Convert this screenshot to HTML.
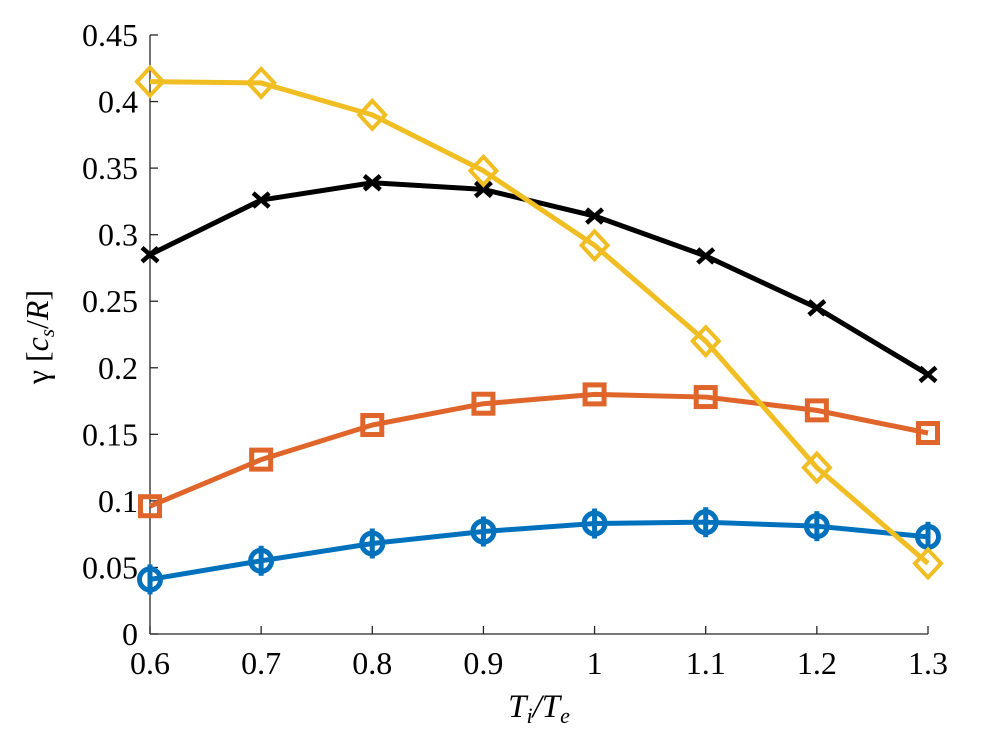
<!DOCTYPE html>
<html><head><meta charset="utf-8"><style>
body{margin:0;background:#fff;}
svg text{font-family:"Liberation Serif",serif;fill:#000;}
</style></head><body>
<svg id="chart" width="1008" height="750" xmlns="http://www.w3.org/2000/svg">
<g id="axes"></g>
<g id="series"></g>
<text transform="translate(48,337) rotate(-90)" text-anchor="middle" font-size="32">γ [<tspan font-style="italic">c</tspan><tspan font-style="italic" font-size="21" dy="6">s</tspan><tspan dy="-6">/</tspan><tspan font-style="italic">R</tspan>]</text>
<text x="539" y="717" text-anchor="middle" font-size="33" font-style="italic">T<tspan font-size="22" dy="6">i</tspan><tspan dy="-6">/T</tspan><tspan font-size="22" dy="6">e</tspan></text>
</svg>
<script>
const categories=[0.6,0.7,0.8,0.9,1.0,1.1,1.2,1.3];
const yellowValues=[0.415,0.414,0.39,0.348,0.292,0.22,0.125,0.053];
const blackValues=[0.285,0.326,0.339,0.334,0.314,0.284,0.245,0.195];
const orangeValues=[0.096,0.131,0.157,0.173,0.180,0.178,0.168,0.151];
const blueValues=[0.041,0.055,0.068,0.077,0.083,0.084,0.081,0.073];
const xTicks=["0.6","0.7","0.8","0.9","1","1.1","1.2","1.3"];
const yTicks=["0","0.05","0.1","0.15","0.2","0.25","0.3","0.35","0.4","0.45"];
const NS="http://www.w3.org/2000/svg";
const X0=150,X1=928,Y0=634,Y1=35;
const sx=v=>X0+(v-0.6)/0.7*(X1-X0);
const sy=v=>Y0-v/0.45*(Y0-Y1);
function mk(t,a,p){const e=document.createElementNS(NS,t);for(const k in a)e.setAttribute(k,a[k]);p.appendChild(e);return e;}
const ax=document.getElementById('axes');
let l=mk('line',{x1:X0,y1:Y0,x2:X1,y2:Y0,stroke:'#262626','stroke-width':1.3},ax);


l=mk('line',{x1:X0,y1:Y0,x2:X0,y2:Y1,stroke:'#262626','stroke-width':1.3},ax);


xTicks.forEach(t=>{const x=sx(parseFloat(t));
mk('line',{x1:x,y1:Y0,x2:x,y2:Y0-8,stroke:'#262626','stroke-width':1.3},ax);
const tx=mk('text',{x:x,y:Y0+40,'text-anchor':'middle','font-size':32},ax);tx.textContent=t;

});
yTicks.forEach(t=>{const y=sy(parseFloat(t));
mk('line',{x1:X0,y1:y,x2:X0+8,y2:y,stroke:'#262626','stroke-width':1.3},ax);
const tx=mk('text',{x:X0-12,y:y+11,'text-anchor':'end','font-size':32},ax);tx.textContent=t;

});
const sg=document.getElementById('series');
function series(vals,color,marker,name){
const g=mk('g',{},sg);


mk('polyline',{points:vals.map((v,i)=>sx(categories[i])+','+sy(v)).join(' '),fill:'none',stroke:color,'stroke-width':5,'stroke-linejoin':'round'},g);
vals.forEach((v,i)=>{const x=sx(categories[i]),y=sy(v);let m;
if(marker==='circle'){mk('line',{x1:x,y1:y-15,x2:x,y2:y+15,stroke:color,'stroke-width':5},g);m=mk('circle',{cx:x,cy:y,r:10.5,fill:'none',stroke:color,'stroke-width':5},g);}
else if(marker==='square'){m=mk('rect',{x:x-9.5,y:y-9.5,width:19,height:19,fill:'none',stroke:color,'stroke-width':5},g);}
else if(marker==='diamond'){m=mk('polygon',{points:`${x},${y-14} ${x+13},${y} ${x},${y+14} ${x-13},${y}`,fill:'none',stroke:color,'stroke-width':4},g);}
else{m=mk('path',{d:`M${x-8},${y-7}L${x+8},${y+7}M${x-8},${y+7}L${x+8},${y-7}`,stroke:color,'stroke-width':4.5},g);}

});}
series(blueValues,'#0072BD','circle','blue-series');
series(orangeValues,'#E0652A','square','orange-series');
series(blackValues,'#000000','cross','black-series');
series(yellowValues,'#F0BE22','diamond','yellow-series');
</script>
</body></html>
